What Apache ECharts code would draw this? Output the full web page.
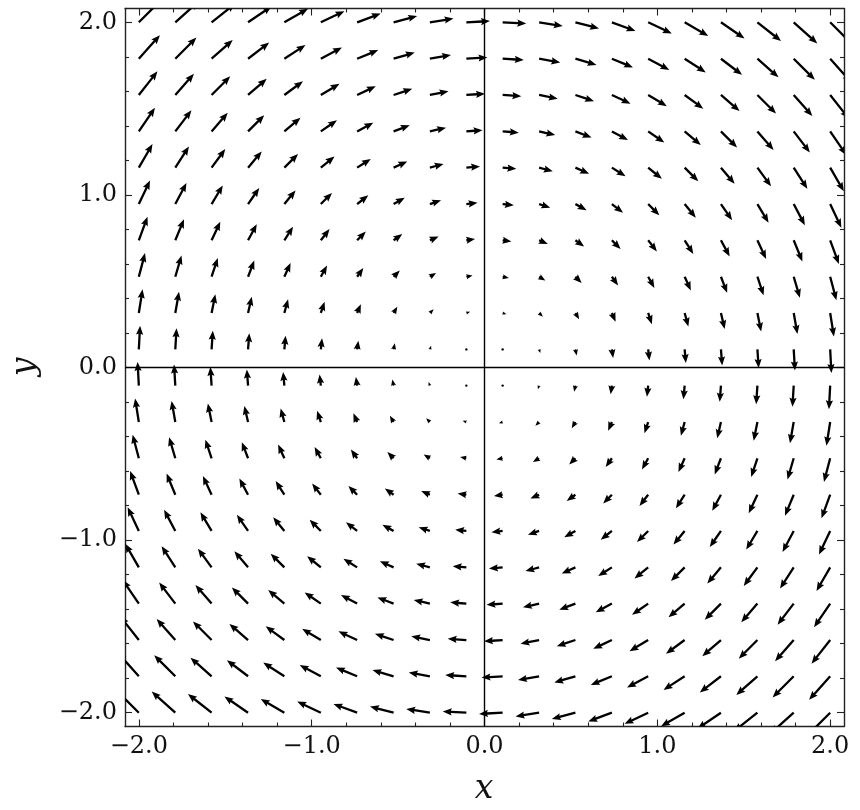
<!DOCTYPE html>
<html>
<head>
<meta charset="utf-8">
<script src="https://cdn.jsdelivr.net/npm/echarts@6/dist/echarts.min.js"></script>
<style>
  html, body { margin: 0; padding: 0; background: #fff; }
  #chart { width: 860px; height: 810px; }
</style>
</head>
<body>
<div id="chart"></div>
<script>
// Grid of sample points (x positions of the columns, y positions of the rows)
const gridX = [-2.000, -1.789, -1.579, -1.368, -1.158, -0.947, -0.737, -0.526, -0.316, -0.105,
                0.105,  0.316,  0.526,  0.737,  0.947,  1.158,  1.368,  1.579,  1.789,  2.000];
const gridY = [-2.000, -1.789, -1.579, -1.368, -1.158, -0.947, -0.737, -0.526, -0.316, -0.105,
                0.105,  0.316,  0.526,  0.737,  0.947,  1.158,  1.368,  1.579,  1.789,  2.000];
// Horizontal component read for each row (same along a row)
const uByRow = [-2.000, -1.789, -1.579, -1.368, -1.158, -0.947, -0.737, -0.526, -0.316, -0.105,
                 0.105,  0.316,  0.526,  0.737,  0.947,  1.158,  1.368,  1.579,  1.789,  2.000];
// Vertical component read for each column (same along a column)
const vByCol = [ 2.000,  1.789,  1.579,  1.368,  1.158,  0.947,  0.737,  0.526,  0.316,  0.105,
                -0.105, -0.316, -0.526, -0.737, -0.947, -1.158, -1.368, -1.579, -1.789, -2.000];
// Tick positions
const majorTicks = [-2, -1, 0, 1, 2];
const minorTicks = [-1.8, -1.6, -1.4, -1.2, -0.8, -0.6, -0.4, -0.2, 0.2, 0.4, 0.6, 0.8, 1.2, 1.4, 1.6, 1.8];
const axisMin = -2.08, axisMax = 2.08;

// Build the data table
const quiverData = [];
for (let j = 0; j < gridY.length; j++) {
  for (let i = 0; i < gridX.length; i++) {
    quiverData.push([gridX[i], gridY[j], uByRow[j], vByCol[i]]);
  }
}

const PX_PER_UNIT = 11.8;   // arrow length scale
const W = 2.3, HW = 7.2, HL = 9, HAL = 8;

function renderArrow(params, api) {
  const x = api.value(0), y = api.value(1), u = api.value(2), v = api.value(3);
  const p = api.coord([x, y]);
  const dx = u * PX_PER_UNIT, dy = -v * PX_PER_UNIT;
  let L = Math.hypot(dx, dy);
  const ang = Math.atan2(dy, dx);
  if (L < W) {
    return { type: 'circle', shape: { cx: p[0], cy: p[1], r: 1.2 }, style: { fill: '#000' } };
  }
  let w = W, hw = HW, hl = HL, hal = HAL;
  if (L < HL) { const s = L / HL; w *= s; hw *= s; hl *= s; hal *= s; }
  const local = [[0, -w / 2], [L - hal, -w / 2], [L - hl, -hw / 2], [L, 0],
                 [L - hl, hw / 2], [L - hal, w / 2], [0, w / 2]];
  const c = Math.cos(ang), s = Math.sin(ang);
  const pts = local.map(([a, b]) => [p[0] + a * c - b * s, p[1] + a * s + b * c]);
  return { type: 'polygon', shape: { points: pts }, style: { fill: '#000' } };
}

const FONT = 'DejaVu Serif';
const lineCol = '#222';
const fmt = v => (v < 0 ? '\u2212' : '') + Math.abs(v).toFixed(1);

function mkAxis(dir, position, major, withLabel) {
  return {
    type: 'value', min: axisMin, max: axisMax, position: position,
    axisLine: { show: major, onZero: false, lineStyle: { color: lineCol, width: 1.4 } },
    axisTick: { show: true, inside: true, length: major ? 7 : 4,
                customValues: major ? majorTicks : minorTicks,
                lineStyle: { color: lineCol, width: 1.1 } },
    axisLabel: withLabel ? { show: true, customValues: majorTicks, formatter: fmt,
                fontFamily: FONT, fontSize: 24, color: '#111', margin: 8 }
              : { show: false },
    splitLine: { show: false }
  };
}

const chart = echarts.init(document.getElementById('chart'), null, { renderer: 'canvas' });
chart.setOption({
  animation: false,
  backgroundColor: '#fff',
  grid: { left: 125, right: 16, top: 8.5, bottom: 83.5, containLabel: false, outerBoundsMode: 'none' },
  xAxis: [
    mkAxis('x', 'bottom', true, true),
    mkAxis('x', 'bottom', false, false),
    mkAxis('x', 'top', true, false),
    mkAxis('x', 'top', false, false)
  ],
  yAxis: [
    mkAxis('y', 'left', true, true),
    mkAxis('y', 'left', false, false),
    mkAxis('y', 'right', true, false),
    mkAxis('y', 'right', false, false)
  ],
  graphic: [
    { type: 'text', x: 484, y: 789,
      style: { text: 'x', font: 'italic 33px "DejaVu Serif"', fill: '#111', align: 'center', verticalAlign: 'middle' } },
    { type: 'text', x: 25, y: 367, rotation: Math.PI / 2,
      style: { text: 'y', font: 'italic 33px "DejaVu Serif"', fill: '#111', align: 'center', verticalAlign: 'middle' } }
  ],
  series: [{
    type: 'custom',
    xAxisIndex: 0, yAxisIndex: 0,
    clip: true,
    renderItem: renderArrow,
    data: quiverData,
    silent: true,
    markLine: {
      silent: true, symbol: ['none', 'none'], label: { show: false },
      lineStyle: { color: '#000', width: 1.4, type: 'solid' },
      data: [{ xAxis: 0 }, { yAxis: 0 }]
    }
  }]
});
</script>
</body>
</html>
